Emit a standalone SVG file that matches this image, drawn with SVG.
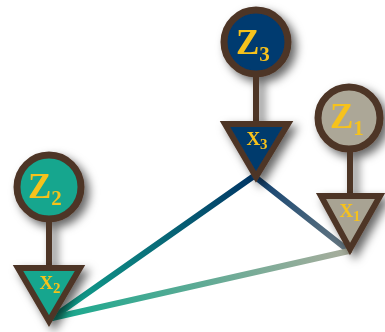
<svg xmlns="http://www.w3.org/2000/svg" width="385" height="332" viewBox="0 0 385 332">
<defs>
<filter id="sh" x="-40%" y="-40%" width="190%" height="190%">
<feDropShadow dx="5" dy="5" stdDeviation="5" flood-color="#000" flood-opacity="0.6"/>
</filter>
<linearGradient id="g32" gradientUnits="userSpaceOnUse" x1="254" y1="176" x2="52" y2="318">
<stop offset="0" stop-color="#003565"/><stop offset="1" stop-color="#12a88e"/>
</linearGradient>
<linearGradient id="g31" gradientUnits="userSpaceOnUse" x1="254" y1="176" x2="349" y2="251">
<stop offset="0" stop-color="#0d3f70"/><stop offset="1" stop-color="#6a7a82"/>
</linearGradient>
<linearGradient id="g12" gradientUnits="userSpaceOnUse" x1="349" y1="251" x2="52" y2="318">
<stop offset="0" stop-color="#a9ad9c"/><stop offset="1" stop-color="#14a88e"/>
</linearGradient>
<style>
.edge{fill:none;stroke-width:6;stroke-linecap:round}
.ring{stroke:#4e3526;stroke-width:7}
.tri{stroke:#4e3526;stroke-width:6;stroke-linejoin:miter}
.stem{stroke:#4e3526;stroke-width:6}
.zl{font-family:"Liberation Serif",serif;font-weight:bold;fill:#f6c21c;font-size:35px}
.xl{font-family:"Liberation Serif",serif;font-weight:bold;fill:#f6c21c;font-size:19px;text-anchor:middle}
</style>
</defs>
<g id="connectors">
<line class="edge" x1="254" y1="176" x2="52" y2="318" stroke="url(#g32)"/>
<line class="edge" x1="254" y1="176" x2="349" y2="251" stroke="url(#g31)"/>
<line class="edge" x1="349" y1="251" x2="52" y2="318" stroke="url(#g12)"/>
</g>
<g id="z3" filter="url(#sh)">
<line class="stem" x1="256" y1="74" x2="256" y2="124"/>
<circle class="ring" cx="256" cy="42" r="32" fill="#023a6f"/>
<text class="zl" x="236" y="54">Z<tspan font-size="21" dy="7">3</tspan></text>
</g>
<g id="x3" filter="url(#sh)">
<polygon class="tri" points="225,124 288,124 256,177" fill="#053a6d"/>
<text class="xl" x="257" y="145">X<tspan font-size="15" dy="4">3</tspan></text>
</g>
<g id="z1" filter="url(#sh)">
<line class="stem" x1="350" y1="150" x2="350" y2="196"/>
<circle class="ring" cx="349" cy="118" r="31" fill="#aca797"/>
<text class="zl" x="330" y="128">Z<tspan font-size="21" dy="7">1</tspan></text>
</g>
<g id="x1" filter="url(#sh)">
<polygon class="tri" points="321,196 380,196 350,249" fill="#a8a393"/>
<text class="xl" x="350" y="217">X<tspan font-size="15" dy="4">1</tspan></text>
</g>
<g id="z2" filter="url(#sh)">
<line class="stem" x1="49" y1="218" x2="49" y2="268"/>
<circle class="ring" cx="49" cy="187" r="32" fill="#12a68e"/>
<text class="zl" x="28" y="198">Z<tspan font-size="21" dy="7">2</tspan></text>
</g>
<g id="x2" filter="url(#sh)">
<polygon class="tri" points="18,268 80,268 49,321" fill="#12a68e"/>
<text class="xl" x="50" y="289">X<tspan font-size="15" dy="4">2</tspan></text>
</g>
</svg>
